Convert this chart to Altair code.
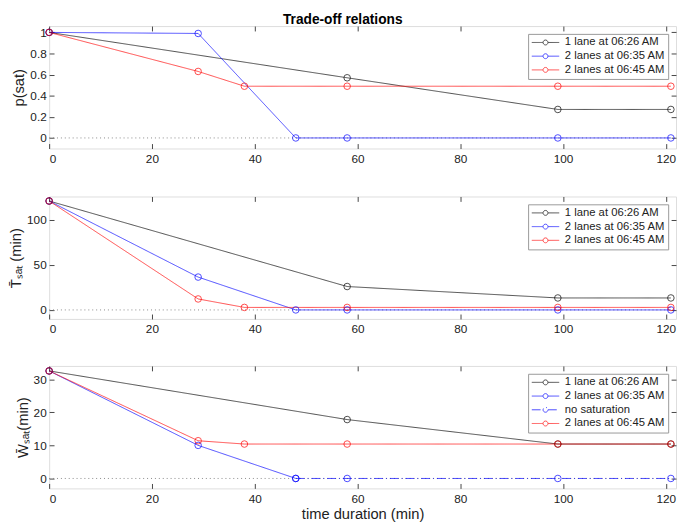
import altair as alt
import pandas as pd

# ---------------- data ----------------
S1 = "1 lane at 06:26 AM"
S2 = "2 lanes at 06:35 AM"
S3 = "2 lanes at 06:45 AM"
S4 = "no saturation"

# panel 1: p(sat)
p_x1 = [0, 58, 99, 121]
p_y1 = [1.0, 0.57, 0.27, 0.27]
p_x2 = [0, 29, 48, 58, 99, 121]
p_y2 = [1.0, 0.99, 0.0, 0.0, 0.0, 0.0]
p_x3 = [0, 29, 38, 58, 99, 121]
p_y3 = [1.0, 0.63, 0.49, 0.49, 0.49, 0.49]

# panel 2: T_sat (min)
t_x1 = [0, 58, 99, 121]
t_y1 = [121, 26, 13.3, 13.3]
t_x2 = [0, 29, 48, 58, 99, 121]
t_y2 = [121, 36.5, 0, 0, 0, 0]
t_x3 = [0, 29, 38, 58, 99, 121]
t_y3 = [121, 12.2, 2.8, 2.8, 2.8, 2.8]

# panel 3: W_sat (min)
w_x1 = [0, 58, 99, 121]
w_y1 = [32.5, 17.8, 10.4, 10.4]
w_x2 = [0, 29, 48]
w_y2 = [32.5, 10.0, 0.0]
w_x4 = [48, 58, 99, 121]
w_y4 = [0, 0, 0, 0]
w_x3 = [0, 29, 38, 58, 99, 121]
w_y3 = [32.5, 11.4, 10.4, 10.4, 10.4, 10.4]

zero_x = [0, 121]
zero_y = [0, 0]

x_ticks = [0, 20, 40, 60, 80, 100, 120]

FONT = "Liberation Sans"
LEGEND_SYMBOL = "M-2.8,0H-0.5M0.5,0H2.8M0.5,0A0.5,0.5,0,1,1,-0.5,0A0.5,0.5,0,1,1,0.5,0"


def frame(pairs):
    rows = []
    for name, xs, ys in pairs:
        for xv, yv in zip(xs, ys):
            rows.append({"series": name, "x": xv, "y": yv})
    return pd.DataFrame(rows)


def panel(df, ytitle, ydomain, yticks, order, colors, dashes, xtitle):
    xscale = alt.Scale(domain=[0, 122], nice=False, zero=False)
    yscale = alt.Scale(domain=ydomain, nice=False, zero=False)
    color = alt.Color(
        "series:N",
        scale=alt.Scale(domain=order, range=colors),
        sort=order,
        legend=alt.Legend(
            title=None, orient="top-right", offset=8,
            symbolType=LEGEND_SYMBOL, symbolSize=100, symbolStrokeWidth=1,
            symbolOffset=9, labelOffset=14,
            labelFont=FONT, labelFontSize=11.5, labelColor="#222",
            strokeColor="#999", fillColor="white", padding=3,
            rowPadding=1, symbolOpacity=0.7,
        ),
    )
    enc_dash = alt.StrokeDash(
        "series:N", scale=alt.Scale(domain=order, range=dashes), sort=order,
        legend=None,
    )
    xaxis = alt.Axis(values=x_ticks, title=xtitle, offset=-5, tickSize=5,
                     domain=False, grid=False, labelPadding=5,
                     labelFont=FONT, labelFontSize=12, labelColor="#222",
                     tickColor="#444", titleFont=FONT, titleFontSize=15,
                     titleFontWeight="normal", titleColor="#222", titlePadding=3)
    yaxis = alt.Axis(values=yticks, title=ytitle, offset=-5, tickSize=5, format=".1~f",
                     domain=False, grid=False, labelPadding=3,
                     labelFont=FONT, labelFontSize=12, labelColor="#222",
                     tickColor="#444", titleFont=FONT, titleFontSize=15,
                     titleFontWeight="normal", titleColor="#222", titlePadding=3)
    zdf = pd.DataFrame({"x": zero_x, "y": zero_y})
    zero = alt.Chart(zdf).mark_line(color="#888", strokeDash=[1, 3], strokeWidth=1).encode(
        x=alt.X("x:Q", scale=xscale,
                axis=alt.Axis(orient="top", values=x_ticks, labels=False, title=None,
                              domain=False, grid=False, offset=-5, tickSize=5, tickColor="#444")),
        y=alt.Y("y:Q", scale=yscale,
                axis=alt.Axis(orient="right", values=yticks, labels=False, title=None,
                              domain=False, grid=False, offset=-5, tickSize=5, tickColor="#444")),
    )
    lines = alt.Chart(df).mark_line(strokeWidth=1, opacity=0.7).encode(
        x=alt.X("x:Q", scale=xscale, axis=xaxis),
        y=alt.Y("y:Q", scale=yscale, axis=yaxis),
        color=color,
        strokeDash=enc_dash,
        detail="series:N",
    )
    pts = alt.Chart(df).mark_point(filled=False, size=45, strokeWidth=1, opacity=0.7).encode(
        x=alt.X("x:Q", scale=xscale, axis=None),
        y=alt.Y("y:Q", scale=yscale, axis=None),
        color=color,
    )
    return alt.layer(zero, lines, pts).resolve_axis(x="independent", y="independent").properties(
        width=640, height=125
    )


COL = {S1: "#000000", S2: "#0000ff", S3: "#ff0000", S4: "#0000ff"}
SOLID = [1, 0]
DASHDOT = [9, 3, 1, 3]

d1 = frame([(S1, p_x1, p_y1), (S2, p_x2, p_y2), (S3, p_x3, p_y3)])
d2 = frame([(S1, t_x1, t_y1), (S2, t_x2, t_y2), (S3, t_x3, t_y3)])
d3 = frame([(S1, w_x1, w_y1), (S2, w_x2, w_y2), (S4, w_x4, w_y4), (S3, w_x3, w_y3)])

o3 = [S1, S2, S3]
o4 = [S1, S2, S4, S3]

c1 = panel(d1, "p(sat)", [-0.1, 1.06], [0, 0.2, 0.4, 0.6, 0.8, 1],
           o3, [COL[s] for s in o3], [SOLID] * 3, None)
c2 = panel(d2, "T\u0304\u209b\u2090\u209c (min)", [-10, 126], [0, 50, 100],
           o3, [COL[s] for s in o3], [SOLID] * 3, None)
c3 = panel(d3, "W\u0304\u209b\u2090\u209c(min)", [-3, 34], [0, 10, 20, 30],
           o4, [COL[s] for s in o4], [SOLID, SOLID, DASHDOT, SOLID], "time duration (min)")

chart = alt.vconcat(c1, c2, c3, spacing=30).resolve_scale(
    color="independent", strokeDash="independent"
).resolve_legend(color="independent", strokeDash="independent").properties(
    title=alt.TitleParams("Trade-off relations", font=FONT, fontSize=14, fontWeight="bold",
                          anchor="middle", offset=-2, color="#000"),
    padding={"left": 0, "top": 0, "right": 0, "bottom": 0},
).configure_view(stroke="#999", strokeWidth=1).configure(font=FONT)

chart.save("out.html", embed_options={"renderer": "svg", "actions": False})
